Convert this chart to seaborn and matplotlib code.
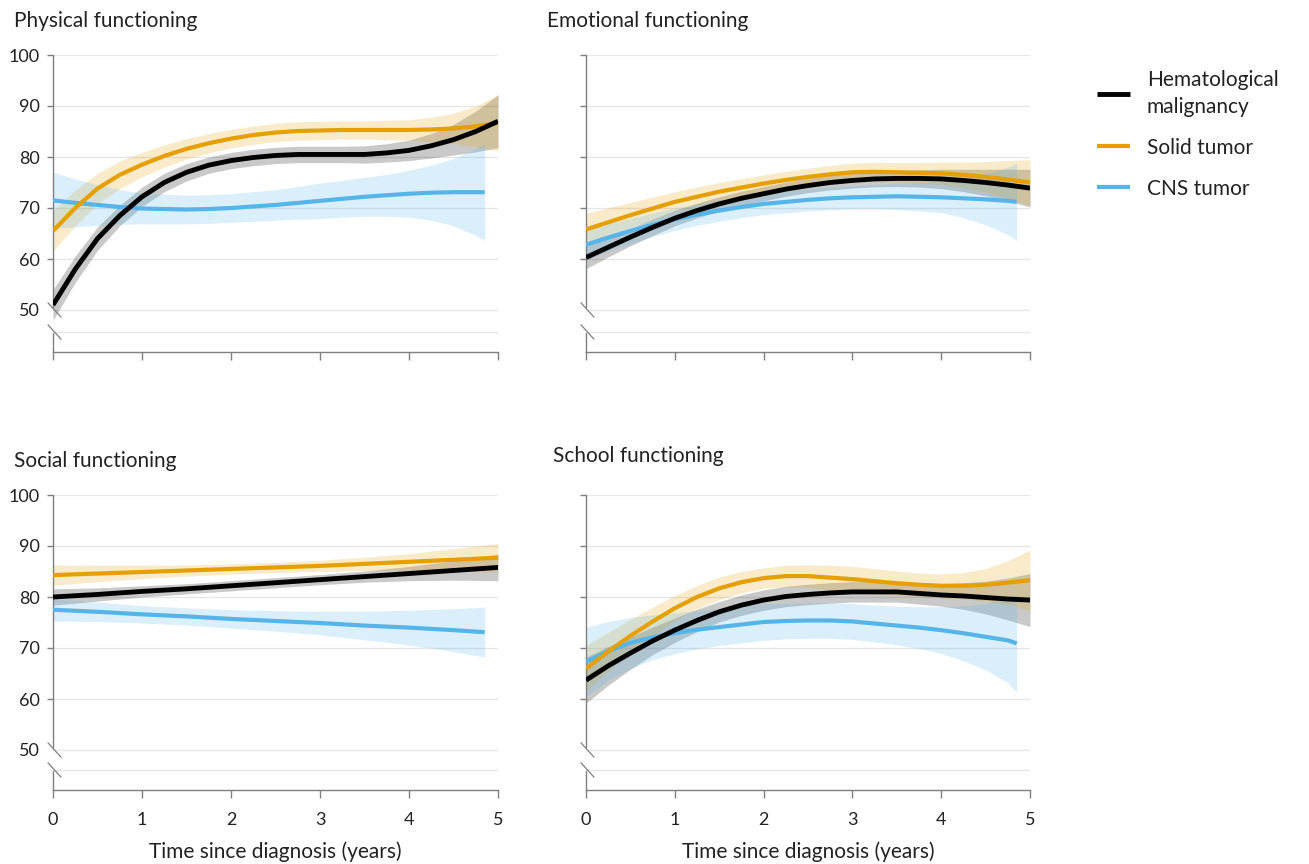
import matplotlib
matplotlib.use("Agg")
import matplotlib.pyplot as plt
import pandas as pd
import seaborn as sns

sns.set_theme(style="white")
plt.rcParams["font.family"] = ["Lato", "DejaVu Sans"]

# ---- data (estimated means and CI half widths)
years_fine = [0, 0.25, 0.5, 0.75, 1, 1.25, 1.5, 1.75, 2, 2.25, 2.5,
              2.75, 3, 3.25, 3.5, 3.75, 4, 4.25, 4.5, 4.75, 5]
years_fine_cns = [0, 0.25, 0.5, 0.75, 1, 1.25, 1.5, 1.75, 2, 2.25, 2.5,
                  2.75, 3, 3.25, 3.5, 3.75, 4, 4.25, 4.5, 4.75, 4.85]
years = [0, 0.5, 1, 1.5, 2, 2.5, 3, 3.5, 4, 4.5, 5]
years_cns = [0, 0.5, 1, 1.5, 2, 2.5, 3, 3.5, 4, 4.5, 4.85]

groups = ["Hematological\nmalignancy", "Solid tumor", "CNS tumor"]
colors = ["#000000", "#E69F00", "#56B4E9"]
line_widths = [3.5, 3.0, 3.0]

# Physical functioning
phys_hem = [51.0, 58.0, 64.0, 68.5, 72.2, 75.0, 77.0, 78.4, 79.3, 79.9, 80.3,
            80.5, 80.5, 80.5, 80.5, 80.8, 81.3, 82.2, 83.4, 85.0, 87.0]
phys_hem_ci = [3.0, 2.6, 2.3, 2.0, 1.9, 1.8, 1.7, 1.6, 1.6, 1.6, 1.6,
               1.6, 1.6, 1.6, 1.7, 1.8, 2.0, 2.4, 3.0, 4.0, 5.2]
phys_solid = [65.5, 70.0, 73.8, 76.5, 78.5, 80.2, 81.6, 82.7, 83.6, 84.3, 84.8,
              85.1, 85.2, 85.3, 85.3, 85.3, 85.3, 85.4, 85.6, 86.0, 86.7]
phys_solid_ci = [4.0, 3.5, 3.0, 2.7, 2.4, 2.2, 2.0, 1.9, 1.8, 1.8, 1.8,
                 1.8, 1.8, 1.8, 1.8, 1.9, 2.0, 2.4, 3.0, 4.0, 5.5]
phys_cns = [71.5, 71.0, 70.6, 70.2, 69.9, 69.8, 69.7, 69.8, 70.0, 70.3, 70.6,
            71.0, 71.4, 71.8, 72.2, 72.5, 72.8, 73.0, 73.1, 73.1, 73.1]
phys_cns_ci = [5.5, 4.7, 4.0, 3.4, 3.0, 2.9, 2.8, 2.8, 2.8, 2.9, 3.0,
               3.2, 3.5, 3.6, 3.8, 4.1, 4.6, 5.4, 6.6, 8.5, 9.5]

# Emotional functioning
emo_hem = [60.3, 62.3, 64.3, 66.2, 68.0, 69.5, 70.8, 71.9, 72.8, 73.7, 74.4,
           75.0, 75.4, 75.7, 75.8, 75.8, 75.7, 75.4, 75.0, 74.5, 73.9]
emo_hem_ci = [2.2, 1.9, 1.7, 1.6, 1.5, 1.45, 1.4, 1.4, 1.4, 1.4, 1.4,
              1.45, 1.5, 1.55, 1.6, 1.7, 1.9, 2.2, 2.6, 3.1, 3.7]
emo_solid = [65.8, 67.2, 68.6, 69.9, 71.2, 72.2, 73.2, 74.0, 74.8, 75.5, 76.1,
             76.6, 77.0, 77.1, 77.0, 76.9, 76.8, 76.5, 76.1, 75.6, 75.0]
emo_solid_ci = [3.2, 2.8, 2.5, 2.2, 2.0, 1.9, 1.8, 1.75, 1.7, 1.7, 1.7,
                1.75, 1.8, 1.85, 1.9, 2.0, 2.2, 2.5, 3.0, 3.7, 4.5]
emo_cns = [62.8, 64.2, 65.5, 66.7, 67.8, 68.7, 69.5, 70.2, 70.8, 71.2, 71.6,
           71.9, 72.1, 72.2, 72.3, 72.2, 72.1, 71.9, 71.7, 71.4, 71.2]
emo_cns_ci = [3.0, 2.7, 2.5, 2.3, 2.2, 2.1, 2.1, 2.1, 2.1, 2.15, 2.2,
              2.25, 2.3, 2.4, 2.6, 2.8, 3.0, 3.8, 5.0, 6.6, 7.6]

# Social functioning
soc_hem = [80.0, 80.5, 81.1, 81.6, 82.2, 82.8, 83.4, 84.0, 84.6, 85.2, 85.8]
soc_hem_ci = [1.6, 1.3, 1.1, 1.0, 1.0, 1.0, 1.0, 1.1, 1.4, 1.9, 2.6]
soc_solid = [84.3, 84.6, 84.9, 85.2, 85.5, 85.8, 86.1, 86.5, 86.9, 87.3, 87.7]
soc_solid_ci = [2.0, 1.6, 1.3, 1.1, 1.0, 1.0, 1.1, 1.3, 1.6, 2.2, 2.8]
soc_cns = [77.5, 77.1, 76.6, 76.2, 75.7, 75.3, 74.9, 74.4, 74.0, 73.5, 73.1]
soc_cns_ci = [2.2, 1.9, 1.7, 1.7, 1.8, 2.0, 2.3, 2.8, 3.4, 4.2, 4.9]

# School functioning
sch_hem = [63.7, 66.5, 69.0, 71.4, 73.5, 75.4, 77.1, 78.4, 79.4, 80.1, 80.5,
           80.8, 81.0, 81.0, 81.0, 80.7, 80.4, 80.2, 79.9, 79.6, 79.4]
sch_hem_ci = [4.5, 3.8, 3.2, 2.7, 2.4, 2.2, 2.0, 2.0, 2.0, 2.0, 2.0,
              2.0, 2.0, 2.0, 2.0, 2.1, 2.2, 2.6, 3.2, 4.1, 5.2]
sch_solid = [66.0, 69.3, 72.4, 75.2, 77.8, 80.0, 81.7, 82.9, 83.7, 84.1, 84.1,
             83.8, 83.5, 83.1, 82.7, 82.4, 82.2, 82.2, 82.4, 82.8, 83.3]
sch_solid_ci = [4.5, 3.8, 3.2, 2.8, 2.5, 2.3, 2.2, 2.1, 2.0, 2.1, 2.2,
                2.4, 2.5, 2.5, 2.4, 2.3, 2.3, 2.6, 3.2, 4.3, 5.9]
sch_cns = [67.3, 69.4, 71.0, 72.1, 72.9, 73.6, 74.1, 74.6, 75.1, 75.3, 75.4,
           75.4, 75.2, 74.8, 74.4, 74.0, 73.5, 72.9, 72.2, 71.5, 70.9]
sch_cns_ci = [6.8, 5.8, 5.0, 4.4, 4.0, 3.8, 3.6, 3.6, 3.6, 3.5, 3.5,
              3.5, 3.5, 3.6, 3.8, 4.1, 4.6, 5.4, 6.5, 8.3, 9.6]

panels = [
    ("Physical functioning", years_fine, years_fine_cns,
     [phys_hem, phys_solid, phys_cns], [phys_hem_ci, phys_solid_ci, phys_cns_ci]),
    ("Emotional functioning", years_fine, years_fine_cns,
     [emo_hem, emo_solid, emo_cns], [emo_hem_ci, emo_solid_ci, emo_cns_ci]),
    ("Social functioning", years, years_cns,
     [soc_hem, soc_solid, soc_cns], [soc_hem_ci, soc_solid_ci, soc_cns_ci]),
    ("School functioning", years_fine, years_fine_cns,
     [sch_hem, sch_solid, sch_cns], [sch_hem_ci, sch_solid_ci, sch_cns_ci]),
]

W, H = 1309, 864
# axes boxes in pixels: left, top, right, bottom
boxes = [(53, 55, 498, 352), (586, 55, 1030, 352),
         (53, 495, 498, 790), (586, 495, 1030, 790)]
title_pos = [(14, 21), (547, 21), (14, 461), (553, 456)]

grey = "#7F7F7F"
grid_col = "#E6E6E6"
txt_col = "#222222"

fig = plt.figure(figsize=(W / 100, H / 100), dpi=100)
legend_handles = None

for i, (title, xs_main, xs_cns, means, cis) in enumerate(panels):
    l, t, r, b = boxes[i]
    ax = fig.add_axes([l / W, 1 - b / H, (r - l) / W, (b - t) / H])
    ymin = 100 - (b - t) / 5.1
    ax.set_xlim(0, 5)
    ax.set_ylim(ymin, 100)

    # long table for this panel
    rows = []
    for g, m, c in zip(groups, means, cis):
        xs = xs_cns if g == "CNS tumor" else xs_main
        for x, y, e in zip(xs, m, c):
            rows.append({"year": x, "score": y, "lo": y - e, "hi": y + e, "group": g})
    df = pd.DataFrame(rows)

    # bands first
    for g, col in zip(groups, colors):
        sub = df[df["group"] == g]
        ax.fill_between(sub["year"], sub["lo"], sub["hi"], color=col,
                        alpha=0.21, lw=0, zorder=2)
    # lines, black on top
    for g, col, lw in list(zip(groups, colors, line_widths))[::-1]:
        sub = df[df["group"] == g]
        sns.lineplot(data=sub, x="year", y="score", color=col, lw=lw,
                     errorbar=None, ax=ax, zorder=3, legend=False,
                     solid_capstyle="butt")
    if legend_handles is None:
        legend_handles = ax.get_lines()[:3][::-1]

    # grid
    ax.set_yticks([50, 60, 70, 80, 90, 100])
    ax.yaxis.grid(True, color=grid_col, lw=1, zorder=0)
    ax.axhline(ymin + 20 / 5.1, color=grid_col, lw=1, zorder=0)
    ax.set_xticks([0, 1, 2, 3, 4, 5])
    ax.set_xlabel("")
    ax.set_ylabel("")

    for s in ["top", "right", "left"]:
        ax.spines[s].set_visible(False)
    ax.spines["bottom"].set_color(grey)
    ax.spines["bottom"].set_linewidth(1)

    # broken left axis
    tr = ax.get_yaxis_transform()
    gap_lo = ymin + 19 / 5.1
    ax.plot([0, 0], [50.6, 100], transform=tr, color=grey, lw=1, clip_on=False)
    ax.plot([0, 0], [ymin, gap_lo], transform=tr, color=grey, lw=1, clip_on=False)
    dx = 1.0 / (r - l)
    for yc in [50, ymin + 20 / 5.1]:
        ax.plot([-5 * dx, 8 * dx], [yc + 1.4, yc - 1.4], transform=tr,
                color=grey, lw=0.9, clip_on=False)

    ax.tick_params(axis="y", left=True, length=4.5, width=1, color=grey,
                   pad=5, labelsize=13, labelcolor=txt_col,
                   labelleft=(i % 2 == 0))
    ax.yaxis.get_major_ticks()[0].tick1line.set_visible(False)
    ax.tick_params(axis="x", bottom=True, length=6, width=1, color=grey,
                   pad=10, labelsize=13, labelcolor=txt_col,
                   labelbottom=(i >= 2))

    tx, ty = title_pos[i]
    fig.text(tx / W, 1 - ty / H, title, ha="left", va="center",
             fontsize=15, color=txt_col)
    if i >= 2:
        fig.text((l + r) / 2 / W, 1 - 852 / H, "Time since diagnosis (years)",
                 ha="center", va="center", fontsize=15, color=txt_col)

leg = fig.legend(legend_handles, groups, loc="upper left",
                 bbox_to_anchor=(1078 / W, 1 - 51 / H), frameon=False,
                 fontsize=15, handlelength=1.6, handletextpad=0.8,
                 labelspacing=1.0, labelcolor=txt_col)
leg.get_texts()[0].set_linespacing(1.45)

plt.savefig("out.png", dpi=100)
